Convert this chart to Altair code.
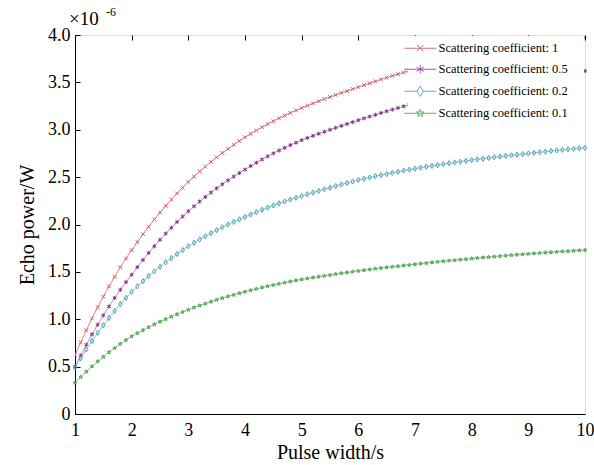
import altair as alt
import pandas as pd

# ---------------- data ----------------
pulse_width = [
    1.0, 1.1, 1.2, 1.3, 1.4, 1.5, 1.6, 1.7, 1.8, 1.9,
    2.0, 2.1, 2.2, 2.3, 2.4, 2.5, 2.6, 2.7, 2.8, 2.9,
    3.0, 3.1, 3.2, 3.3, 3.4, 3.5, 3.6, 3.7, 3.8, 3.9,
    4.0, 4.1, 4.2, 4.3, 4.4, 4.5, 4.6, 4.7, 4.8, 4.9,
    5.0, 5.1, 5.2, 5.3, 5.4, 5.5, 5.6, 5.7, 5.8, 5.9,
    6.0, 6.1, 6.2, 6.3, 6.4, 6.5, 6.6, 6.7, 6.8, 6.9,
    7.0, 7.1, 7.2, 7.3, 7.4, 7.5, 7.6, 7.7, 7.8, 7.9,
    8.0, 8.1, 8.2, 8.3, 8.4, 8.5, 8.6, 8.7, 8.8, 8.9,
    9.0, 9.1, 9.2, 9.3, 9.4, 9.5, 9.6, 9.7, 9.8, 9.9,
    10.0,
]

# echo power in units of 1e-6 W
power_coef_1 = [
    0.62,
    0.755, 0.885, 1.009, 1.127, 1.239, 1.347, 1.449, 1.548, 1.641, 1.73,
    1.816, 1.898, 1.977, 2.053, 2.126, 2.197, 2.264, 2.328, 2.390, 2.45,
    2.506, 2.560, 2.611, 2.661, 2.709, 2.755, 2.798, 2.841, 2.881, 2.92,
    2.957, 2.992, 3.026, 3.059, 3.091, 3.121, 3.150, 3.178, 3.204, 3.23,
    3.254, 3.278, 3.301, 3.324, 3.346, 3.368, 3.389, 3.409, 3.430, 3.45,
    3.471, 3.491, 3.511, 3.531, 3.550, 3.569, 3.587, 3.605, 3.622, 3.64,
    3.655, 3.671, 3.685, 3.700, 3.714, 3.728, 3.741, 3.754, 3.767, 3.78,
    3.792, 3.804, 3.816, 3.827, 3.838, 3.849, 3.859, 3.870, 3.880, 3.89,
    3.899, 3.907, 3.916, 3.924, 3.932, 3.940, 3.948, 3.955, 3.963, 3.97,
]
power_coef_05 = [
    0.50,
    0.618, 0.732, 0.840, 0.943, 1.041, 1.135, 1.225, 1.311, 1.392, 1.47,
    1.550, 1.626, 1.700, 1.771, 1.839, 1.904, 1.966, 2.027, 2.084, 2.14,
    2.192, 2.243, 2.291, 2.338, 2.382, 2.425, 2.466, 2.506, 2.543, 2.58,
    2.617, 2.652, 2.686, 2.719, 2.751, 2.781, 2.810, 2.838, 2.864, 2.89,
    2.913, 2.936, 2.958, 2.979, 3.000, 3.021, 3.041, 3.061, 3.080, 3.10,
    3.120, 3.139, 3.158, 3.177, 3.195, 3.213, 3.230, 3.247, 3.263, 3.28,
    3.295, 3.311, 3.325, 3.340, 3.354, 3.368, 3.381, 3.394, 3.407, 3.42,
    3.432, 3.444, 3.456, 3.467, 3.478, 3.489, 3.499, 3.510, 3.520, 3.53,
    3.540, 3.550, 3.559, 3.568, 3.577, 3.586, 3.595, 3.603, 3.612, 3.62,
]
power_coef_02 = [
    0.49,
    0.588, 0.681, 0.770, 0.856, 0.936, 1.014, 1.088, 1.159, 1.226, 1.29,
    1.347, 1.402, 1.455, 1.506, 1.554, 1.601, 1.646, 1.689, 1.730, 1.77,
    1.807, 1.842, 1.876, 1.909, 1.941, 1.971, 2.000, 2.028, 2.054, 2.08,
    2.106, 2.131, 2.155, 2.179, 2.201, 2.223, 2.243, 2.263, 2.282, 2.30,
    2.319, 2.337, 2.355, 2.372, 2.389, 2.406, 2.423, 2.439, 2.454, 2.47,
    2.483, 2.496, 2.509, 2.521, 2.533, 2.545, 2.557, 2.568, 2.579, 2.59,
    2.600, 2.610, 2.619, 2.628, 2.637, 2.646, 2.655, 2.663, 2.672, 2.68,
    2.688, 2.695, 2.703, 2.710, 2.717, 2.724, 2.730, 2.737, 2.743, 2.75,
    2.757, 2.763, 2.769, 2.776, 2.782, 2.788, 2.793, 2.799, 2.804, 2.81,
]
power_coef_01 = [
    0.33,
    0.390, 0.447, 0.502, 0.554, 0.603, 0.651, 0.696, 0.740, 0.781, 0.82,
    0.853, 0.885, 0.916, 0.946, 0.974, 1.001, 1.027, 1.053, 1.077, 1.10,
    1.123, 1.144, 1.165, 1.185, 1.205, 1.223, 1.241, 1.258, 1.274, 1.29,
    1.305, 1.320, 1.335, 1.348, 1.362, 1.374, 1.386, 1.398, 1.409, 1.42,
    1.430, 1.440, 1.449, 1.458, 1.467, 1.476, 1.485, 1.493, 1.502, 1.51,
    1.518, 1.525, 1.533, 1.540, 1.547, 1.554, 1.560, 1.567, 1.573, 1.58,
    1.587, 1.593, 1.599, 1.606, 1.612, 1.618, 1.623, 1.629, 1.634, 1.64,
    1.646, 1.651, 1.656, 1.661, 1.666, 1.671, 1.676, 1.681, 1.685, 1.69,
    1.694, 1.699, 1.703, 1.707, 1.711, 1.715, 1.719, 1.723, 1.726, 1.73,
]

series_names = [
    "Scattering coefficient: 1",
    "Scattering coefficient: 0.5",
    "Scattering coefficient: 0.2",
    "Scattering coefficient: 0.1",
]
x_ticks = [1, 2, 3, 4, 5, 6, 7, 8, 9, 10]
y_ticks = [0, 0.5, 1.0, 1.5, 2.0, 2.5, 3.0, 3.5, 4.0]

# ---------------- styles ----------------
FONT = "Liberation Serif"
line_colors = ["#e2838a", "#cf86cf", "#86c6cf", "#86cc86"]
marker_colors = ["#c85a64", "#7d3580", "#4e9fae", "#4f9f4f"]
legend_colors = ["#d66f78", "#a455a8", "#62b1bd", "#62b262"]

marker_paths = [
    "M-1,-1L1,1M-1,1L1,-1",
    "M0,-1.1L0,1.1M-1,-0.6L1,0.6M-1,0.6L1,-0.6",
    "M0,-1.4L0.9,0L0,1.4L-0.9,0Z",
    "M0,-1L0.235,-0.324L0.951,-0.309L0.38,0.124L0.588,0.809L0,0.4L-0.588,0.809L-0.38,0.124L-0.951,-0.309L-0.235,-0.324Z",
]
legend_paths = [
    "M-4,0L4,0M-0.8,-0.8L0.8,0.8M-0.8,0.8L0.8,-0.8",
    "M-4,0L4,0M0,-1L0,1M-0.9,-0.55L0.9,0.55M-0.9,0.55L0.9,-0.55",
    "M-4,0L-0.8,0M0.8,0L4,0M0,-1.3L0.8,0L0,1.3L-0.8,0Z",
    "M-4,0L4,0M0,-1L0.235,-0.324L0.951,-0.309L0.38,0.124L0.588,0.809L0,0.4L-0.588,0.809L-0.38,0.124L-0.951,-0.309L-0.235,-0.324Z",
]

rows = []
for name, vals in zip(series_names, [power_coef_1, power_coef_05, power_coef_02, power_coef_01]):
    for xv, yv in zip(pulse_width, vals):
        rows.append({"pulse": xv, "power": yv, "series": name})
df = pd.DataFrame(rows)

x_enc = alt.X(
    "pulse:Q",
    scale=alt.Scale(domain=[1, 10], nice=False, zero=False),
    axis=alt.Axis(
        values=x_ticks, format="d", title="Pulse width/s",
        grid=True, gridColor="black", gridOpacity=1, gridWidth=1, gridDash=[5, 2000],
        ticks=False, labelPadding=7, labelFlush=False,
        labelFont=FONT, labelFontSize=18, labelColor="black",
        domainColor="black", domainWidth=1,
        titleFont=FONT, titleFontSize=20, titleFontWeight="normal", titleColor="black",
        titlePadding=3,
    ),
)
y_enc = alt.Y(
    "power:Q",
    scale=alt.Scale(domain=[0, 4], nice=False),
    axis=alt.Axis(
        values=y_ticks, labelExpr="datum.value == 0 ? '0' : format(datum.value, '.1f')",
        title="Echo power/W",
        grid=True, gridColor="black", gridOpacity=1, gridWidth=1, gridDash=[5, 2000],
        ticks=False, labelPadding=5, labelFlush=False,
        labelFont=FONT, labelFontSize=18, labelColor="black",
        domainColor="black", domainWidth=1,
        titleFont=FONT, titleFontSize=20, titleFontWeight="normal", titleColor="black",
        titlePadding=10,
    ),
)

color_marker = alt.Color("series:N", scale=alt.Scale(domain=series_names, range=marker_colors), legend=None)
shape_marker = alt.Shape("series:N", scale=alt.Scale(domain=series_names, range=marker_paths), legend=None)

lines = alt.Chart(df).mark_line(strokeWidth=1).encode(
    x=x_enc, y=y_enc,
    color=alt.Color("series:N", scale=alt.Scale(domain=series_names, range=line_colors), legend=None),
)

# markers of the top curve are clipped to the frame (its end is hidden under the legend)
points_top = alt.Chart(df).transform_filter(
    alt.datum.series == series_names[0]
).mark_point(filled=False, strokeWidth=1, size=14, opacity=1, clip=True).encode(
    x=x_enc, y=y_enc, color=color_marker, shape=shape_marker,
)
points_rest = alt.Chart(df).transform_filter(
    alt.datum.series != series_names[0]
).mark_point(filled=False, strokeWidth=1, size=14, opacity=1).encode(
    x=x_enc, y=y_enc, color=color_marker, shape=shape_marker,
)

# trailing no-break spaces (kept by a final zero-width space) widen the white legend box
leg = alt.Legend(
    title=None, orient="none", legendX=333, legendY=1,
    fillColor="white", padding=6, rowPadding=8,
    labelFont=FONT, labelFontSize=12.5, labelColor="black", labelLimit=400,
    labelExpr="datum.label + '\u00a0\u00a0\u00a0\u200b'",
    labelOffset=12, symbolSize=64, symbolStrokeWidth=1,
)
legend_layer = alt.Chart(df).transform_filter("false").mark_point(filled=False, strokeWidth=1, opacity=1).encode(
    x=x_enc, y=y_enc,
    color=alt.Color("series:N", scale=alt.Scale(domain=series_names, range=legend_colors), legend=leg),
    shape=alt.Shape("series:N", scale=alt.Scale(domain=series_names, range=legend_paths), legend=leg),
)

exp_base = alt.Chart(pd.DataFrame({"t": ["×10"]})).mark_text(
    align="left", baseline="alphabetic", font=FONT, fontSize=19, color="black"
).encode(x=alt.value(-6), y=alt.value(-10), text="t:N")
exp_sup = alt.Chart(pd.DataFrame({"t": ["-6"]})).mark_text(
    align="left", baseline="alphabetic", font=FONT, fontSize=12, color="black"
).encode(x=alt.value(31), y=alt.value(-19), text="t:N")

chart = (
    alt.layer(lines, points_top, points_rest, legend_layer, exp_base, exp_sup)
    .resolve_scale(color="independent", shape="independent")
    .properties(
        width=510, height=379,
        padding={"left": 75, "top": 35, "right": 9, "bottom": 51},
        autosize=alt.AutoSizeParams(type="none"),
        background="white",
    )
    .configure_view(stroke="black", strokeWidth=1)
    .configure(font=FONT)
)

chart.save("out.html", embed_options={"renderer": "svg", "actions": False})
